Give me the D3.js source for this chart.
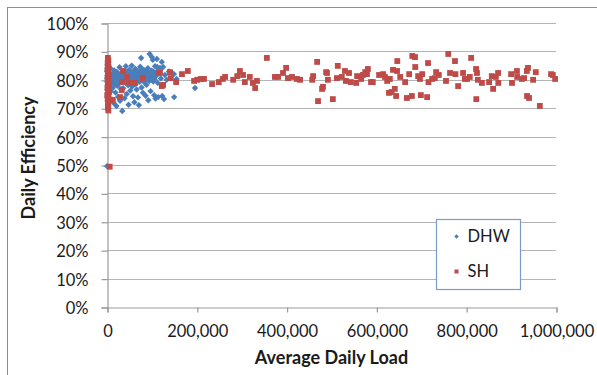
<!DOCTYPE html>
<html>
<head>
<meta charset="utf-8">
<script src="https://cdn.jsdelivr.net/npm/d3@7"></script>
<style>
  html, body { margin: 0; padding: 0; background: #fff; }
  svg { display: block; font-family: Lato, "Open Sans", sans-serif; }
</style>
</head>
<body>
<svg id="chart" width="597" height="375"></svg>
<script>
// Daily efficiency vs. average daily load, for domestic hot water (DHW) and space heating (SH)
const xTicks = [0, 200000, 400000, 600000, 800000, 1000000];
const yTicks = [0, 10, 20, 30, 40, 50, 60, 70, 80, 90, 100];
const seriesNames = ["DHW", "SH"];

// [average daily load, daily efficiency %]
const dhwPoints = [
  [1000,85.2],[1500,84.0],[500,83.0],[2000,82.2],[800,81.5],[1200,80.8],[2500,80.0],[600,79.2],
  [1800,78.4],[3000,77.5],[1000,76.5],[2200,83.6],[2800,81.9],[400,80.4],[3500,79.0],[0,49.6],
  [5000,82.5],[6000,78.0],[7000,80.5],[8000,84.0],[8500,76.0],[9000,81.2],[10000,73.0],[11000,79.0],
  [12000,82.0],[13000,77.2],[14000,80.1],[15000,71.8],[16000,83.3],[17000,78.6],[18000,81.5],[19000,75.5],
  [20000,79.8],[21000,70.8],[22000,82.8],[23000,77.9],[24000,80.6],[25000,74.0],[26000,81.8],[27000,78.8],
  [28000,84.4],[29000,72.6],[30000,80.2],[31000,76.8],[32000,82.3],[33000,79.5],[34000,69.0],[35000,81.0],
  [36000,77.0],[37000,83.0],[38000,80.4],[39000,73.5],[40000,82.0],[41000,79.0],[42000,84.8],[43000,81.4],
  [44000,75.0],[45000,80.0],[46000,82.6],[47000,78.1],[48000,71.2],[49000,81.7],[50000,83.6],[51000,79.6],
  [52000,76.2],[53000,82.1],[54000,80.8],[55000,85.0],[56000,77.6],[57000,81.2],[58000,74.2],[59000,82.9],
  [60000,79.9],[61000,72.1],[62000,81.5],[63000,83.9],[64000,78.5],[65000,80.5],[66000,76.6],[67000,82.4],
  [68000,80.0],[69000,73.8],[70000,81.8],[71000,71.1],[72000,83.2],[73000,79.3],[74000,84.6],[75000,80.7],
  [76000,87.7],[77000,77.3],[78000,82.0],[79000,80.2],[80000,75.4],[81000,81.5],[82000,83.5],[83000,79.1],
  [84000,82.7],[85000,80.6],[86000,74.4],[87000,81.9],[88000,78.2],[89000,82.9],[90000,80.3],[91000,84.1],
  [92000,72.8],[93000,81.1],[94000,79.6],[95000,89.1],[96000,82.5],[97000,76.0],[98000,80.9],[99000,83.2],
  [100000,88.0],[101000,81.6],[102000,87.0],[103000,79.4],[104000,82.2],[105000,74.6],[106000,80.1],[107000,84.8],
  [108000,73.4],[109000,81.3],[110000,82.8],[111000,87.3],[112000,84.5],[113000,78.9],[114000,73.9],[116000,82.4],
  [118000,84.2],[120000,80.5],[122000,86.3],[123000,74.3],[125000,84.5],[127000,73.2],[129000,81.7],[133000,80.0],
  [138000,82.9],[145000,82.4],[149000,82.0],[149500,73.9],[155000,80.3],[196000,77.1],
  [15500,80.5],[25500,81.2],[35500,82.4],[45500,81.1],[55500,80.2],[65500,82.3],[75500,81.0],[85500,82.2],
  [95500,80.8],[105500,81.9],[12500,79.9],[22500,80.9],[32500,81.3],[42500,82.8],[52500,81.3],[62500,80.6],
  [72500,82.5],[82500,80.7],[92500,81.8],[102500,83.0],[7500,81.1],[17500,82.3],[27500,80.0],[37500,79.7],
  [47500,83.0],[57500,82.0],[67500,81.6],[77500,83.7],[87500,80.0],[97500,82.0]
];

const shPoints = [
  [2000,87.7],[3000,86.8],[1500,86.0],[2500,85.2],[3500,84.4],[1000,83.6],[2000,82.8],[4000,82.0],
  [2500,81.2],[1500,80.4],[3000,79.6],[2000,78.8],[3500,78.0],[1000,77.2],[2500,76.4],[4500,75.6],
  [2000,74.8],[3000,74.0],[1500,73.2],[2500,72.4],[3000,71.6],[2000,70.8],[2500,70.0],[3000,69.2],
  [6000,49.4],[500,74.6],[7000,73.0],[13000,72.9],
  [29000,73.9],[33000,76.4],[35600,83.1],[33400,79.2],[44500,81.0],[49000,78.9],[62000,78.9],[80000,80.6],
  [116000,82.4],[118000,82.7],[122000,77.8],[125000,78.2],[140000,82.7],[142000,80.6],[154000,79.2],[167000,82.0],
  [180000,83.1],[194000,79.6],[201000,80.0],[209000,80.3],[216000,80.3],[234000,78.5],[249000,79.2],[258000,80.3],
  [263000,81.0],[281000,80.0],[290000,81.3],[296000,83.1],[303000,81.7],[307000,79.2],[318000,81.0],[325000,78.9],
  [330000,77.1],[334000,79.6],[356000,87.7],[374000,81.0],[381000,81.0],[392000,82.4],[399000,84.2],[403000,80.6],
  [412000,81.0],[423000,80.3],[430000,80.0],[457000,80.0],[459000,81.3],[468000,86.3],[470000,72.5],[479000,76.8],
  [481000,77.5],[488000,82.7],[490000,82.4],[492000,80.0],[503000,73.2],[514000,84.9],[512000,80.6],[523000,81.0],
  [530000,83.1],[532000,79.6],[539000,82.4],[543000,79.2],[555000,78.9],[557000,81.3],[566000,80.3],[570000,81.7],
  [575000,82.7],[579000,82.0],[581000,83.8],[588000,79.2],[592000,79.2],[606000,81.7],[615000,82.0],[619000,81.0],
  [624000,79.6],[630000,80.3],[628000,75.4],[634000,75.7],[637000,83.5],[641000,76.8],[644000,74.3],[646000,83.1],
  [646500,86.6],[653000,81.0],[664000,79.2],[668000,73.6],[673000,82.0],[679000,74.3],[680000,88.4],[686000,88.0],
  [686500,84.5],[693000,81.3],[697000,80.3],[699000,74.6],[702000,82.0],[713000,73.9],[715000,85.9],[716000,79.2],
  [724000,80.3],[730000,80.6],[733000,82.7],[739000,81.7],[755000,79.6],[760000,89.1],[764000,82.4],[775000,86.6],
  [776000,82.0],[782000,77.8],[793000,82.4],[797000,80.3],[802000,80.3],[808000,81.0],[811000,87.7],[822000,83.8],
  [822500,73.2],[824000,82.4],[826000,80.0],[835000,78.9],[851000,79.2],[857000,81.3],[860000,76.8],[866000,81.0],
  [871000,82.4],[871500,78.9],[900000,82.0],[902000,78.9],[913000,83.1],[913500,81.0],[924000,80.3],[929000,80.6],
  [935000,83.1],[937600,84.2],[935500,74.3],[940000,73.6],[949000,80.0],[955000,82.7],[964000,70.8],[989000,82.0],
  [993000,81.7],[998000,80.3]
];

const svg = d3.select("#chart");
const W = 597, H = 375;
const plot = { left: 107, right: 556, top: 23, bottom: 307 };

// Outer chart frame (top and left edges visible)
svg.append("rect").attr("x", 7.5).attr("y", 7.5).attr("width", W + 10).attr("height", H + 10)
  .attr("fill", "#fff").attr("stroke", "#8d8d8d").attr("stroke-width", 1);

const x = d3.scaleLinear().domain([0, 1000000]).range([plot.left, plot.right]);
const y = d3.scaleLinear().domain([0, 100]).range([plot.bottom, plot.top]);

// Horizontal gridlines
svg.append("g").selectAll("line").data(yTicks.filter(t => t > 0)).join("line")
  .attr("x1", plot.left).attr("x2", plot.right)
  .attr("y1", d => Math.round(y(d)) + 0.5).attr("y2", d => Math.round(y(d)) + 0.5)
  .attr("stroke", "#b4b4b4").attr("stroke-width", 1.2);

// Y axis
const yAxis = svg.append("g").attr("transform", `translate(${plot.left + 0.5},0.5)`)
  .call(d3.axisLeft(y).tickValues(yTicks).tickFormat(d => d + "%").tickSize(6).tickPadding(13));
// X axis
const xAxis = svg.append("g").attr("transform", `translate(0.5,${plot.bottom + 0.5})`)
  .call(d3.axisBottom(x).tickValues(xTicks).tickFormat(d3.format(",")).tickSize(5).tickPadding(13));

[yAxis, xAxis].forEach(g => {
  g.select(".domain").attr("stroke", "#9a9a9a").attr("stroke-width", 1.2);
  g.selectAll(".tick line").attr("stroke", "#9a9a9a").attr("stroke-width", 1.2);
  g.selectAll("text").attr("fill", "#1a1a1a").style("font-size", "16.5px").style("font-family", "Lato, sans-serif");
});
yAxis.selectAll("text").attr("dy", "0.36em");
xAxis.selectAll("text").attr("dy", "0.71em");

// Axis titles
svg.append("text").attr("x", (plot.left + plot.right) / 2).attr("y", 364)
  .attr("text-anchor", "middle").attr("font-weight", "bold").attr("font-size", "18px")
  .attr("fill", "#1a1a1a").text("Average Daily Load");
svg.append("text").attr("transform", `translate(35,${(plot.top + plot.bottom) / 2 - 7}) rotate(-90)`)
  .attr("text-anchor", "middle").attr("font-weight", "bold").attr("font-size", "18px")
  .attr("fill", "#1a1a1a").text("Daily Efficiency");

const colors = { DHW: "#4a7ebb", SH: "#be4b48" };
const diamond = r => `M0,${-r}L${r},0L0,${r}L${-r},0Z`;

// DHW diamonds
svg.append("g").selectAll("path").data(dhwPoints).join("path")
  .attr("transform", d => `translate(${x(d[0])},${y(d[1])})`)
  .attr("d", diamond(3.2)).attr("fill", colors.DHW);

// SH squares
const sq = 5.8;
svg.append("g").selectAll("rect").data(shPoints).join("rect")
  .attr("x", d => x(d[0]) - sq / 2).attr("y", d => y(d[1]) - sq / 2)
  .attr("width", sq).attr("height", sq).attr("fill", colors.SH);

// Legend
const lg = svg.append("g").attr("transform", "translate(436.5,219.5)");
lg.append("rect").attr("width", 84).attr("height", 70).attr("fill", "#fff")
  .attr("stroke", "#7b9bcb").attr("stroke-width", 1.2);
seriesNames.forEach((name, i) => {
  const row = lg.append("g").attr("transform", `translate(0,${17 + i * 35})`);
  if (name === "DHW") {
    row.append("path").attr("transform", "translate(20,0)").attr("d", diamond(2.2)).attr("fill", colors.DHW);
  } else {
    row.append("rect").attr("x", 18).attr("y", -2).attr("width", 4).attr("height", 4).attr("fill", colors.SH);
  }
  row.append("text").attr("x", 31).attr("y", 0).attr("dy", "0.36em")
    .attr("font-size", "16.5px").attr("fill", "#1a1a1a").text(name);
});
</script>
</body>
</html>
